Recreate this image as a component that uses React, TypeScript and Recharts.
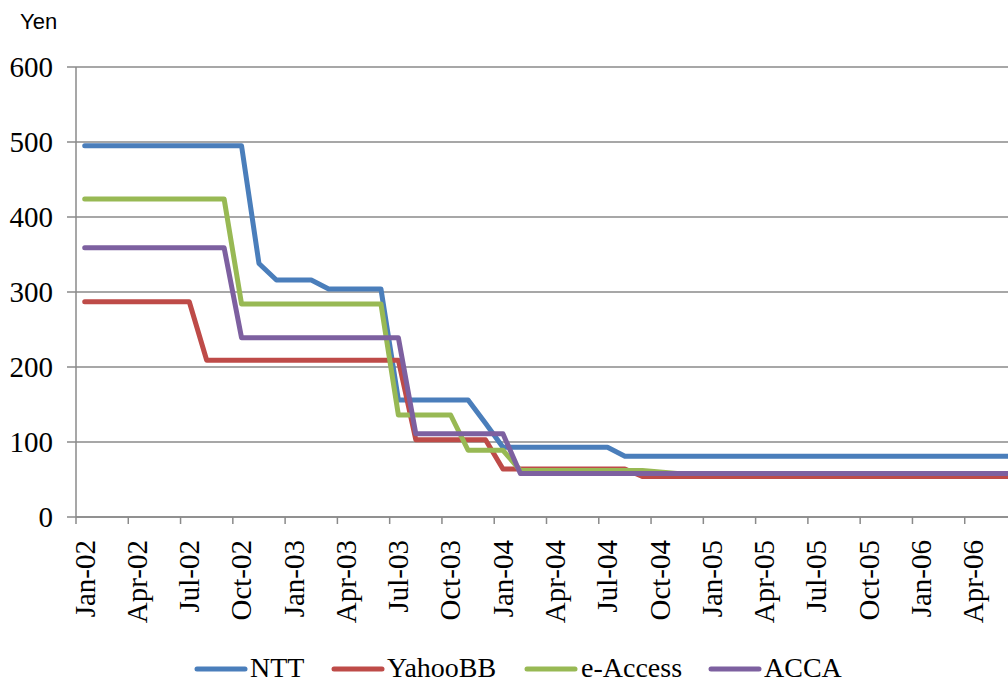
import { LineChart, Line, XAxis, YAxis, CartesianGrid } from "recharts";

// monthly, Jan-02 .. Jun-06 (54 months)
const START_YEAR = 2002;
const MONTHS = ["Jan", "Feb", "Mar", "Apr", "May", "Jun", "Jul", "Aug", "Sep", "Oct", "Nov", "Dec"];

const ntt = [
  495, 495, 495, 495, 495, 495, 495, 495, 495, 495, 338, 316,
  316, 316, 304, 304, 304, 304, 156, 156, 156, 156, 156, 125,
  93, 93, 93, 93, 93, 93, 93, 81, 81, 81, 81, 81,
  81, 81, 81, 81, 81, 81, 81, 81, 81, 81, 81, 81,
  81, 81, 81, 81, 81, 81,
];
const yahooBB = [
  287, 287, 287, 287, 287, 287, 287, 209, 209, 209, 209, 209,
  209, 209, 209, 209, 209, 209, 209, 103, 103, 103, 103, 103,
  64, 64, 64, 64, 64, 64, 64, 64, 54, 54, 54, 54,
  54, 54, 54, 54, 54, 54, 54, 54, 54, 54, 54, 54,
  54, 54, 54, 54, 54, 54,
];
const eAccess = [
  424, 424, 424, 424, 424, 424, 424, 424, 424, 284, 284, 284,
  284, 284, 284, 284, 284, 284, 136, 136, 136, 136, 89, 89,
  89, 62, 62, 62, 62, 62, 62, 62, 62, 60, 58, 58,
  58, 58, 58, 58, 58, 58, 58, 58, 58, 58, 58, 58,
  58, 58, 58, 58, 58, 58,
];
const acca = [
  359, 359, 359, 359, 359, 359, 359, 359, 359, 239, 239, 239,
  239, 239, 239, 239, 239, 239, 239, 111, 111, 111, 111, 111,
  111, 58, 58, 58, 58, 58, 58, 58, 58, 58, 58, 58,
  58, 58, 58, 58, 58, 58, 58, 58, 58, 58, 58, 58,
  58, 58, 58, 58, 58, 58,
];

const yTicks = [0, 100, 200, 300, 400, 500, 600];
const xTicks = [0, 3, 6, 9, 12, 15, 18, 21, 24, 27, 30, 33, 36, 39, 42, 45, 48, 51];

const series = [
  { key: "NTT", values: ntt, color: "#4A7EBB" },
  { key: "YahooBB", values: yahooBB, color: "#BE4B48" },
  { key: "e-Access", values: eAccess, color: "#98B954" },
  { key: "ACCA", values: acca, color: "#7D60A0" },
];

const monthLabel = (i: number) => {
  const y = START_YEAR + Math.floor(i / 12);
  return `${MONTHS[i % 12]}-${String(y % 100).padStart(2, "0")}`;
};

// points sit between the month ticks, like Excel's date axis
const rows = ntt.map((_, i) => {
  const row: any = { x: i + 0.5 };
  for (const s of series) row[s.key] = s.values[i];
  return row;
});

const SERIF = "Liberation Serif, Times New Roman, serif";

function MonthTick({ x, payload }: any) {
  return (
    <text
      transform={`translate(${x + 18.5},540) rotate(-90)`}
      textAnchor="end"
      style={{ fontFamily: SERIF, fontSize: 29 }}
      fill="#000"
    >
      {monthLabel(payload.value)}
    </text>
  );
}

const legendItems = [
  { key: "NTT", line: 195, text: 250 },
  { key: "YahooBB", line: 332, text: 387 },
  { key: "e-Access", line: 525, text: 581 },
  { key: "ACCA", line: 709, text: 764 },
];

export default function App() {
  return (
    <div style={{ position: "absolute", left: 0, top: 0, width: 1008, height: 683, overflow: "hidden", background: "#fff" }}>
      <div style={{ position: "absolute", left: 20, top: 9, fontFamily: "Liberation Sans, Arial, sans-serif", fontSize: 22, color: "#000" }}>
        Yen
      </div>
      <LineChart width={1017} height={683} data={rows} margin={{ top: 67, right: 0, bottom: 0, left: 0 }}>
        <CartesianGrid vertical={false} stroke="#8a8a8a" strokeWidth={1.5} />
        <XAxis
          type="number"
          dataKey="x"
          domain={[0, 54]}
          ticks={xTicks}
          interval={0}
          height={166}
          stroke="#8a8a8a"
          strokeWidth={1.5}
          tickSize={7}
          tick={<MonthTick />}
        />
        <YAxis
          type="number"
          domain={[0, 600]}
          ticks={yTicks}
          width={76}
          stroke="#8a8a8a"
          strokeWidth={1.5}
          tickSize={9}
          tickMargin={14}
          tick={{ fill: "#000", fontSize: 29, style: { fontFamily: SERIF } }}
        />
        {series.map((s) => (
          <Line
            key={s.key}
            type="linear"
            dataKey={s.key}
            stroke={s.color}
            strokeWidth={5}
            strokeLinecap="round"
            strokeLinejoin="round"
            dot={false}
            isAnimationActive={false}
          />
        ))}
      </LineChart>
      <svg style={{ position: "absolute", left: 0, top: 640 }} width={1008} height={43}>
        {legendItems.map((it) => {
          const s = series.find((d) => d.key === it.key)!;
          return (
            <g key={it.key}>
              <line x1={it.line + 2} x2={it.line + 50} y1={29} y2={29} stroke={s.color} strokeWidth={5} strokeLinecap="round" />
              <text x={it.text} y={37} style={{ fontFamily: SERIF, fontSize: 28 }} fill="#000">
                {it.key}
              </text>
            </g>
          );
        })}
      </svg>
    </div>
  );
}
